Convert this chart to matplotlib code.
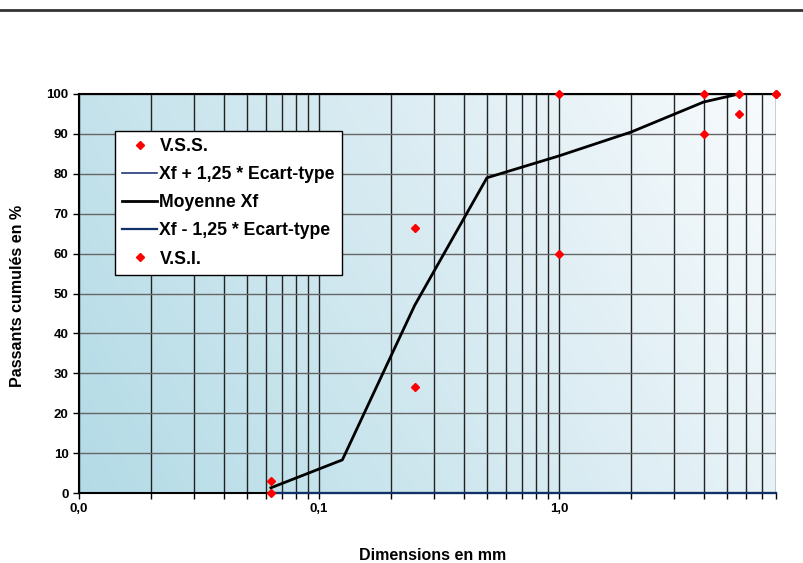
import numpy as np
import matplotlib
matplotlib.use("Agg")
import matplotlib.pyplot as plt
from matplotlib.colors import LinearSegmentedColormap

plt.rcParams['font.family'] = ['Liberation Sans', 'DejaVu Sans']
plt.rcParams['font.weight'] = 'bold'

# tamis (mm) et courbes
tamis = [0.063, 0.125, 0.25, 0.5, 1, 2, 4, 5.6]
moyenne = [1.3, 8.3, 47, 79, 84.5, 90.5, 98, 100]
tamis_ecart = [0.063, 0.125, 0.25, 0.5, 1, 2, 4, 5.6, 8]
xf_plus = [0, 0, 0, 0, 0, 0, 0, 0, 0]
xf_moins = [0, 0, 0, 0, 0, 0, 0, 0, 0]
fuseau_x = [0.063, 0.25, 1, 4, 5.6, 8]
vss = [3, 66.5, 100, 100, 100, 100]
vsi = [0, 26.5, 60, 90, 95, 100]

xticks = [0.01, 0.1, 1]
xticklabels = ["0,0", "0,1", "1,0"]

fig = plt.figure(figsize=(8.04, 5.63), dpi=100)
ax = fig.add_axes([79 / 804, 1 - 493 / 563, (776 - 79) / 804, (493 - 94) / 563])

# fond en degrade
cmap = LinearSegmentedColormap.from_list("fond", ["#b3dbe6", "#d6eaf1", "#f8fbfd"])
gx, gy = np.meshgrid(np.linspace(0, 1, 200), np.linspace(0, 1, 200))
grad = gx * 0.75 + gy * 0.25
ax.imshow(grad, cmap=cmap, extent=[0, 1, 0, 1], origin="lower", aspect="auto",
          transform=ax.transAxes, zorder=0)

ax.set_xscale("log")
ax.set_xlim(0.01, 8)
ax.set_ylim(0, 100)

ax.grid(True, which="both", axis="x", color="#222222", lw=1.0, zorder=1)
ax.grid(True, which="major", axis="y", color="#666666", lw=1.0, zorder=1)

ax.plot(tamis_ecart, xf_plus, color="#1f3a7a", lw=1.2, label="Xf + 1,25 * Ecart-type", zorder=3, clip_on=False)
ax.plot(tamis, moyenne, color="black", lw=2.0, label="Moyenne Xf", zorder=4)
ax.plot(tamis_ecart, xf_moins, color="#10306a", lw=1.6, label="Xf - 1,25 * Ecart-type", zorder=3, clip_on=False)
ax.plot(fuseau_x, vss, "D", color="red", ms=4.5, ls="none", label="V.S.S.", zorder=5, clip_on=False)
ax.plot(fuseau_x, vsi, "D", color="red", ms=4.5, ls="none", label="V.S.I.", zorder=5, clip_on=False)

ax.set_xticks(xticks)
ax.set_xticklabels(xticklabels)
ax.set_yticks(range(0, 101, 10))
ax.tick_params(axis="both", labelsize=9.5, length=4, width=1)
ax.set_xticks([m * d for d in [0.01, 0.1, 1] for m in range(2, 10) if m * d <= 8], minor=True)
ax.tick_params(axis="x", which="minor", length=4, width=1, labelbottom=False)

for s in ["top", "left", "bottom"]:
    ax.spines[s].set_linewidth(1.5)
    ax.spines[s].set_color("black")
ax.spines["right"].set_visible(False)

fig.text(433 / 804, 1 - 556 / 563, "Dimensions en mm", fontsize=11.5, fontweight="bold",
         ha="center", va="center")
fig.text(18 / 804, 1 - 296 / 563, "Passants cumulés en %", fontsize=11.5, fontweight="bold",
         ha="center", va="center", rotation=90)

h, l = ax.get_legend_handles_labels()
order = [3, 0, 1, 2, 4]
leg = ax.legend([h[i] for i in order], [l[i] for i in order], loc="upper left",
                bbox_to_anchor=(36 / 697, 1 - 37 / 399), fontsize=12.7, frameon=True,
                fancybox=False, edgecolor="black", framealpha=1, handlelength=2.0,
                borderpad=0.4, labelspacing=0.63, handletextpad=0.12, borderaxespad=0)
leg.get_frame().set_linewidth(1.0)
leg.set_zorder(10)

fig.add_artist(plt.Line2D([0, 1], [1 - 10 / 563, 1 - 10 / 563], color="#333333", lw=2))

fig.savefig("out.png", dpi=100)
